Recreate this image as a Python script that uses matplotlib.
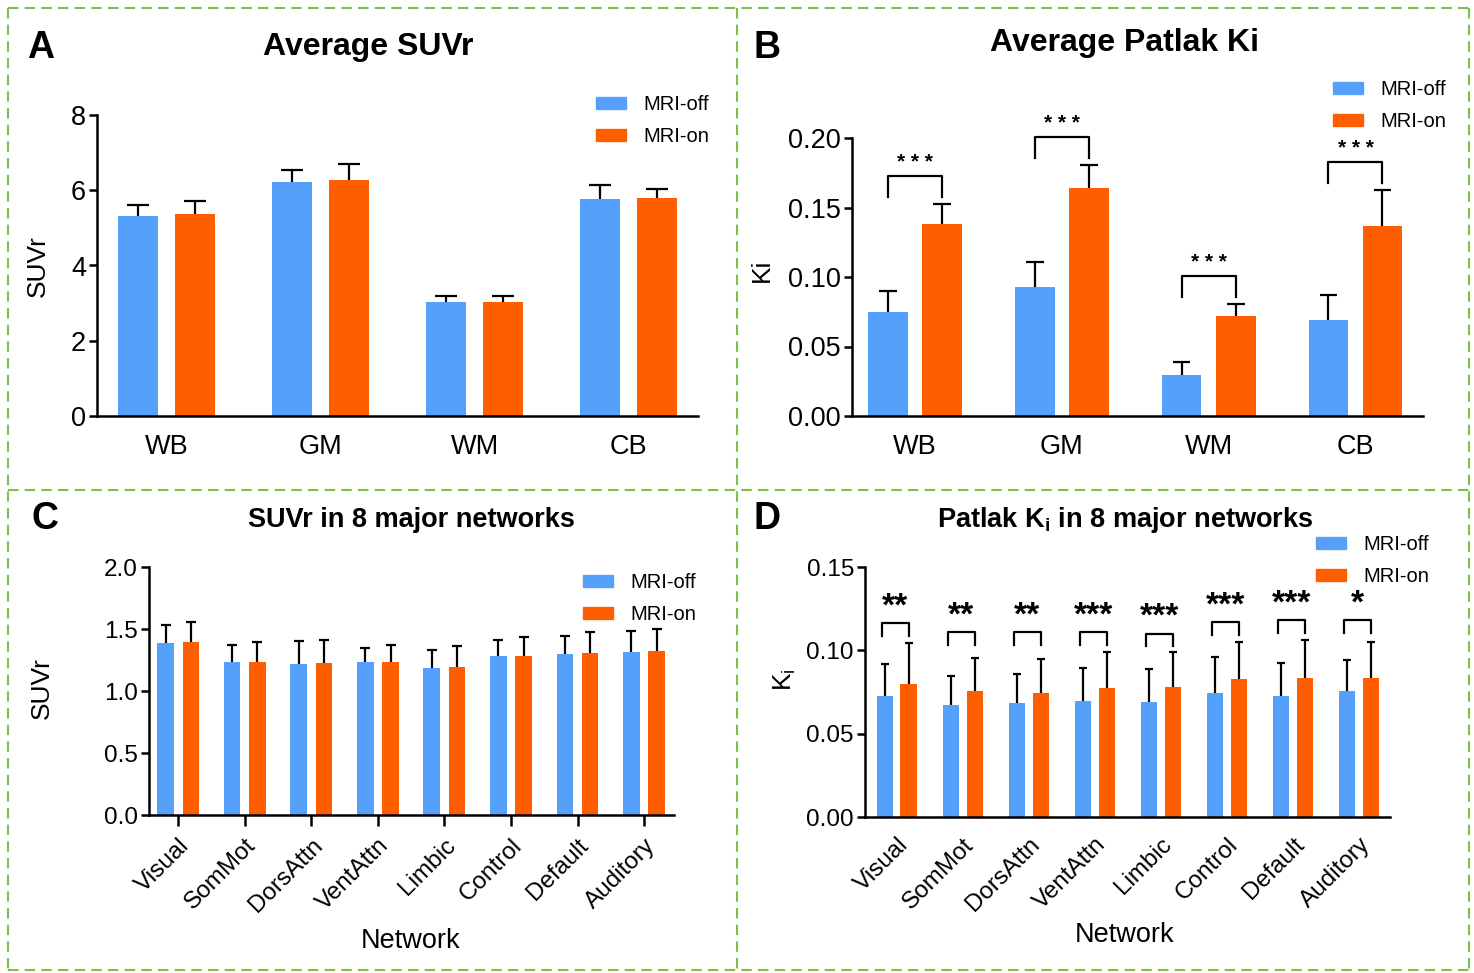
import numpy as np
import matplotlib
matplotlib.use("Agg")
import matplotlib.pyplot as plt
from matplotlib.lines import Line2D
from matplotlib.patches import Patch
from matplotlib.ticker import FormatStrFormatter

plt.rcParams['font.family'] = ['Liberation Sans', 'DejaVu Sans']
plt.rcParams['mathtext.fontset'] = 'custom'
plt.rcParams['mathtext.rm'] = 'Liberation Sans'
plt.rcParams['mathtext.bf'] = 'Liberation Sans:bold'

# ---- data ----
regions = ['WB', 'GM', 'WM', 'CB']
suvr_off = [5.31, 6.21, 3.02, 5.76]
suvr_off_sd = [0.29, 0.32, 0.17, 0.39]
suvr_on = [5.38, 6.28, 3.04, 5.80]
suvr_on_sd = [0.33, 0.42, 0.16, 0.24]

ki_off = [0.075, 0.093, 0.0295, 0.069]
ki_off_sd = [0.015, 0.018, 0.0093, 0.018]
ki_on = [0.1384, 0.164, 0.0723, 0.137]
ki_on_sd = [0.0144, 0.0166, 0.0082, 0.0254]
ki_sig = ['* * *', '* * *', '* * *', '* * *']

networks = ['Visual', 'SomMot', 'DorsAttn', 'VentAttn', 'Limbic', 'Control', 'Default', 'Auditory']
net_suvr_off = [1.389, 1.230, 1.219, 1.230, 1.187, 1.279, 1.300, 1.314]
net_suvr_off_sd = [0.145, 0.143, 0.181, 0.119, 0.143, 0.129, 0.145, 0.166]
net_suvr_on = [1.394, 1.233, 1.225, 1.236, 1.192, 1.284, 1.306, 1.319]
net_suvr_on_sd = [0.159, 0.161, 0.188, 0.134, 0.167, 0.151, 0.169, 0.180]

net_ki_off = [0.0724, 0.0670, 0.0682, 0.0694, 0.0690, 0.0746, 0.0726, 0.0754]
net_ki_off_sd = [0.0196, 0.0174, 0.0178, 0.0198, 0.0198, 0.0214, 0.0196, 0.0190]
net_ki_on = [0.0798, 0.0754, 0.0746, 0.0776, 0.0780, 0.0828, 0.0832, 0.0832]
net_ki_on_sd = [0.0246, 0.0198, 0.0202, 0.0214, 0.0208, 0.0224, 0.0228, 0.0220]
net_ki_sig = ['**', '**', '**', '***', '***', '***', '***', '*']
net_ki_bracket = [0.1164, 0.1108, 0.1108, 0.1108, 0.1100, 0.1168, 0.1180, 0.1180]

BLUE = '#55A0FA'
ORANGE = '#FF5E00'
W, H = 1474, 973

fig = plt.figure(figsize=(W / 100, H / 100), dpi=100)


def px_axes(left, top, right, bottom):
    return fig.add_axes([left / W, 1 - bottom / H, (right - left) / W, (bottom - top) / H])


def style(ax, tick_fs, xticks_on):
    for s in ['top', 'right']:
        ax.spines[s].set_visible(False)
    for s in ['left', 'bottom']:
        ax.spines[s].set_linewidth(1.8)
    ax.tick_params(axis='y', length=6, width=1.8, labelsize=tick_fs, pad=2)
    if xticks_on:
        ax.tick_params(axis='x', length=8, width=1.8)
    else:
        ax.tick_params(axis='x', length=0)


def bars(ax, off, off_sd, on, on_sd, width, offs, cap):
    x = np.arange(len(off))
    for xs, vals, sds, col in [(x - offs, off, off_sd, BLUE), (x + offs, on, on_sd, ORANGE)]:
        ax.bar(xs, vals, width, color=col, zorder=2)
        tops = np.array(vals) + np.array(sds)
        ax.vlines(xs, vals, tops, color='black', lw=1.6, zorder=3)
        ax.hlines(tops, xs - cap / 2, xs + cap / 2, color='black', lw=1.6, zorder=3)
    return x


def legend(left, top, fs=14.5):
    handles = [Patch(color=BLUE, label='MRI-off'), Patch(color=ORANGE, label='MRI-on')]
    fig.legend(handles=handles, loc='upper left', bbox_to_anchor=(left / W, 1 - top / H),
               frameon=False, fontsize=fs, handlelength=1.5, handleheight=0.5,
               handletextpad=0.85, labelspacing=0.65, borderpad=0, borderaxespad=0)


def ftext(x, y, s, **kw):
    fig.text(x / W, 1 - y / H, s, **kw)


# ---- A ----
ax = px_axes(97, 115, 698, 416)
x = bars(ax, suvr_off, suvr_off_sd, suvr_on, suvr_on_sd, 0.26, 0.185, 0.14)
ax.set_xlim(-0.45, 3.45)
ax.set_ylim(0, 8)
ax.set_yticks([0, 2, 4, 6, 8])
ax.set_xticks(x)
ax.set_xticklabels(regions)
style(ax, 19.5, False)
ax.tick_params(axis='x', labelsize=19.5, pad=13)
legend(596, 95)
ftext(368, 47, 'Average SUVr', fontsize=23, fontweight='bold', ha='center', va='center')
ftext(41, 48, 'A', fontsize=27, fontweight='bold', ha='center', va='center')
ftext(38, 266, 'SUVr', fontsize=19, rotation=90, ha='center', va='center')

# ---- B ----
ax = px_axes(852, 138, 1423, 416)
x = bars(ax, ki_off, ki_off_sd, ki_on, ki_on_sd, 0.27, 0.184, 0.12)
ax.set_xlim(-0.43, 3.46)
ax.set_ylim(0, 0.20)
ax.set_yticks([0, 0.05, 0.10, 0.15, 0.20])
ax.yaxis.set_major_formatter(FormatStrFormatter('%.2f'))
ax.set_xticks(x)
ax.set_xticklabels(regions)
style(ax, 19.5, False)
ax.tick_params(axis='x', labelsize=19.5, pad=13)
for i in range(len(regions)):
    top = max(ki_off[i] + ki_off_sd[i], ki_on[i] + ki_on_sd[i]) + 0.02
    xl, xr = x[i] - 0.184, x[i] + 0.184
    ax.plot([xl, xl, xr, xr], [top - 0.015, top, top, top - 0.015], color='black', lw=1.6,
            clip_on=False, zorder=3)
    ax.text(x[i], top + 0.003, ki_sig[i], ha='center', va='bottom', fontsize=15,
            fontweight='bold', clip_on=False)
legend(1333, 80)
ftext(1125, 43, 'Average Patlak Ki', fontsize=23, fontweight='bold', ha='center', va='center')
ftext(767, 48, 'B', fontsize=27, fontweight='bold', ha='center', va='center')
ftext(762, 270, 'Ki', fontsize=19, rotation=90, ha='center', va='center')

# ---- C ----
ax = px_axes(149, 567, 674, 815)
x = bars(ax, net_suvr_off, net_suvr_off_sd, net_suvr_on, net_suvr_on_sd, 0.25, 0.19, 0.15)
ax.set_xlim(-0.44, 7.45)
ax.set_ylim(0, 2.0)
ax.set_yticks([0, 0.5, 1.0, 1.5, 2.0])
ax.yaxis.set_major_formatter(FormatStrFormatter('%.1f'))
ax.set_xticks(x)
style(ax, 17.5, True)
ax.set_xticklabels(networks, rotation=45, ha='right', rotation_mode='anchor', fontsize=17.5)
ax.tick_params(axis='x', pad=6)
legend(583, 573)
ftext(411, 520, 'SUVr in 8 major networks', fontsize=19.5, fontweight='bold', ha='center', va='center')
ftext(45, 519, 'C', fontsize=27, fontweight='bold', ha='center', va='center')
ftext(42, 688, 'SUVr', fontsize=19, rotation=90, ha='center', va='center')
ftext(411, 941, 'Network', fontsize=19.5, ha='center', va='center')

# ---- D ----
ax = px_axes(865, 567, 1390, 817)
x = bars(ax, net_ki_off, net_ki_off_sd, net_ki_on, net_ki_on_sd, 0.245, 0.18, 0.12)
ax.set_xlim(-0.48, 7.47)
ax.set_ylim(0, 0.15)
ax.set_yticks([0, 0.05, 0.10, 0.15])
ax.yaxis.set_major_formatter(FormatStrFormatter('%.2f'))
ax.set_xticks(x)
style(ax, 17.5, False)
ax.set_xticklabels(networks, rotation=45, ha='right', rotation_mode='anchor', fontsize=17.5)
ax.tick_params(axis='x', pad=12)
for i in range(len(networks)):
    top = net_ki_bracket[i]
    xl, xr = x[i] - 0.23, x[i] + 0.18
    ax.plot([xl, xl, xr, xr], [top - 0.0076, top, top, top - 0.0076], color='black', lw=1.6,
            clip_on=False, zorder=3)
    ax.text((xl + xr) / 2, top + 0.0005, net_ki_sig[i], ha='center', va='bottom', fontsize=24,
            fontweight='bold', clip_on=False)
legend(1316, 535)
ftext(1125, 520, r'Patlak K$_\mathbf{i}$ in 8 major networks', fontsize=19.5, fontweight='bold',
      ha='center', va='center')
ftext(767, 519, 'D', fontsize=27, fontweight='bold', ha='center', va='center')
ftext(785, 680, r'K$_\mathrm{i}$', fontsize=19, rotation=90, ha='center', va='center')
ftext(1125, 935, 'Network', fontsize=19.5, ha='center', va='center')

# ---- dashed panel frames ----
green = '#7CC04B'
frame = [((8, 1469), (8, 8)), ((8, 1469), (970, 970)), ((8, 8), (8, 970)),
         ((1469, 1469), (8, 970)), ((737, 737), (8, 970)), ((8, 1469), (490, 490))]
for xs, ys in frame:
    fig.add_artist(Line2D([v / W for v in xs], [1 - v / H for v in ys], color=green, lw=1.5,
                          dashes=(5, 3)))

fig.savefig('out.png', dpi=100)
